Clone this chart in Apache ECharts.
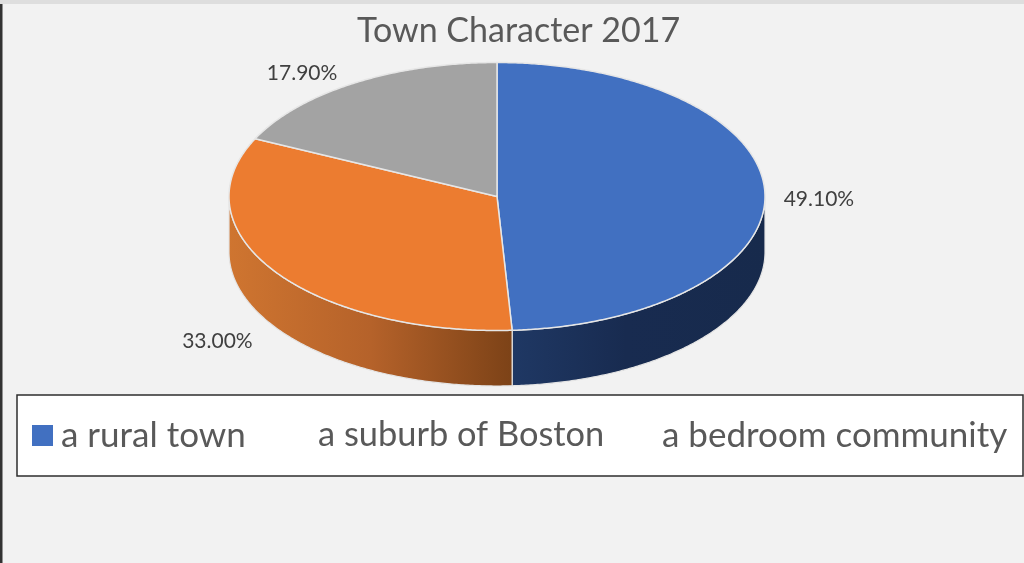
<!DOCTYPE html>
<html><head><meta charset="utf-8">
<style>html,body{margin:0;padding:0;background:#f2f2f2}#c{width:1024px;height:563px}</style>
<script src="https://cdn.jsdelivr.net/npm/echarts@6/dist/echarts.min.js"></script>
</head><body><div id="c"></div>
<script>
var chartTitle = 'Town Character 2017';
var categories = ['a rural town', 'a suburb of Boston', 'a bedroom community'];
var values = [49.1, 33.0, 17.9];

var colors = ['#4170c1', '#ec7c30', '#a3a3a3'];
var wallStops = [
  [[0, '#1f3864'], [0.45, '#182b50'], [1, '#172a4c']],
  [[0, '#cf7530'], [0.5, '#b5622a'], [1, '#7c4217']],
  [[0, '#636363'], [1, '#636363']]
];
var labelOffsets = [[54, 7], [-57, 70], [-52, -10]];
var legendLeft = [32, 290, 634];
var legendFont = [35, 34.4, 35];
var legendTextPad = [3, 2, 2];

var cx = 497, cy = 196.5, rx = 268, ry = 134, depth = 55.5;
var total = values.reduce(function (a, b) { return a + b; }, 0);

function pt(deg, dy) {
  var t = deg * Math.PI / 180;
  return [cx + rx * Math.sin(t), cy - ry * Math.cos(t) + (dy || 0)];
}
function arc(a, b, dy) {
  var out = [], n = Math.max(2, Math.ceil(Math.abs(b - a) * 2));
  for (var i = 0; i <= n; i++) out.push(pt(a + (b - a) * i / n, dy));
  return out;
}
var starts = [], acc = 0;
values.forEach(function (v) { starts.push(acc); acc += v; });

function renderSlice(idx) {
  return function () {
    var a = starts[idx] / total * 360, b = (starts[idx] + values[idx]) / total * 360;
    var kids = [];
    var wa = Math.max(a, 90), wb = Math.min(b, 270);
    if (wb > wa) {
      var top = arc(wa, wb, 0), bottom = arc(wb, wa, depth);
      var stops = wallStops[idx].map(function (s) { return { offset: s[0], color: s[1] }; });
      kids.push({
        type: 'polygon', shape: { points: top.concat(bottom) },
        style: { fill: { type: 'linear', x: 0, y: 0, x2: 1, y2: 0, colorStops: stops }, stroke: '#e4e4e4', lineWidth: 1.2 }
      });
    }
    kids.push({
      type: 'polygon', shape: { points: [[cx, cy]].concat(arc(a, b, 0)) },
      style: { fill: colors[idx], stroke: '#e6e6e6', lineWidth: 1.5, lineJoin: 'round' }
    });
    var m = pt((a + b) / 2, 0), off = labelOffsets[idx];
    kids.push({
      type: 'text', z2: 10,
      style: {
        text: values[idx].toFixed(2) + '%', x: m[0] + off[0], y: m[1] + off[1],
        align: 'center', verticalAlign: 'middle',
        font: '21px Lato', fill: '#404040'
      }
    });
    return { type: 'group', children: kids };
  };
}

var option = {
  animation: false,
  backgroundColor: '#f2f2f2',
  title: {
    text: chartTitle, left: 357, top: 14,
    textStyle: { fontFamily: 'Lato', fontWeight: 'normal', fontSize: 34, color: '#595959' }, padding: 0
  },
  legend: categories.map(function (c, i) {
    return {
      data: [{ name: c, icon: 'rect', itemStyle: { color: i === 0 ? colors[0] : 'rgba(0,0,0,0)' } }],
      left: legendLeft[i], top: 418, padding: 0, itemWidth: 21, itemHeight: 21, selectedMode: false,
      textStyle: { fontFamily: 'Lato', fontSize: legendFont[i], color: '#595959', padding: [0, 0, 0, legendTextPad[i]] }
    };
  }),
  graphic: [
    { type: 'rect', z: 0, shape: { x: 0, y: 0, width: 1024, height: 4 }, style: { fill: '#dedede' } },
    { type: 'rect', z: 0, shape: { x: 0, y: 4, width: 2.5, height: 559 }, style: { fill: '#333333' } },
    { type: 'rect', z: 0, shape: { x: 17, y: 395, width: 1006, height: 81 }, style: { fill: '#ffffff', stroke: '#2e2e2e', lineWidth: 1.5 } }
  ],
  series: categories.map(function (c, i) {
    return {
      type: 'custom', name: c, coordinateSystem: 'none', silent: true,
      data: [values[i]], renderItem: renderSlice(i), itemStyle: { color: colors[i] }
    };
  })
};
var chart = echarts.init(document.getElementById('c'), null, { renderer: 'canvas' });
chart.setOption(option);
</script></body></html>
